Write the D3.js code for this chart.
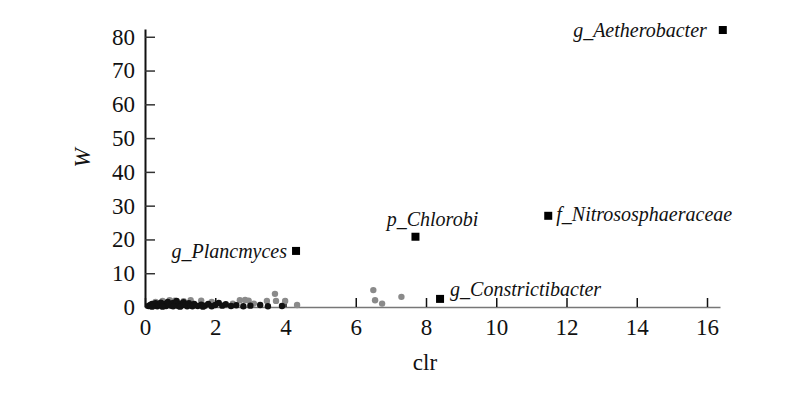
<meta charset="utf-8">
<script src="https://cdn.jsdelivr.net/npm/d3@7"></script>
<style>
  body { margin: 0; background: #fff; }
  text { font-family: "Liberation Serif", "Times New Roman", serif; }
</style>
<div id="chart"></div>
<script>
// labelled genera (black squares)
var taxa = ["g_Aetherobacter", "f_Nitrososphaeraceae", "p_Chlorobi", "g_Plancmyces", "g_Constrictibacter"];
var taxaClr = [16.45, 11.48, 7.7, 4.3, 8.4];
var taxaW = [82, 27, 20.8, 16.6, 2.4];

// small dark points near the origin
var darkClr = [0.1,0.15,0.2,0.25,0.3,0.35,0.4,0.45,0.5,0.55,0.6,0.65,0.7,0.75,0.8,0.85,0.9,0.95,1.0,1.05,1.1,1.15,1.2,1.25,1.3,1.4,1.5,1.6,1.7,1.8,1.9,2.0,2.1,2.2,2.3,2.45,2.6,2.8,3.0,3.28,3.5,3.9,0.2,0.5,0.8,1.0,1.35,1.65];
var darkW   = [0.3,0.6,0.9,0.4,1.1,0.2,0.7,1.3,0.5,0.9,0.3,1.5,0.8,0.4,1.2,0.6,1.8,0.3,1.0,0.5,1.4,0.7,0.2,1.1,0.5,0.9,0.3,0.7,0.4,0.9,0.2,0.6,1.2,0.4,0.8,0.3,0.5,0.2,0.4,0.6,0.2,0.3,0.1,0.1,0.2,0.1,0.2,0.1];

// grey points
var greyClr = [0.3,0.5,0.7,0.85,1.1,1.3,1.6,1.9,2.5,2.7,2.85,2.95,3.1,3.47,3.7,3.73,3.99,4.33,6.5,6.55,6.75,7.3];
var greyW   = [1.5,1.8,2.0,1.9,1.7,2.0,1.9,1.5,1.0,2.0,2.1,1.9,1.0,1.8,3.9,1.8,1.8,0.6,5.0,2.0,1.0,3.0];

var xTicks = [0, 2, 4, 6, 8, 10, 12, 14, 16];
var yTicks = [0, 10, 20, 30, 40, 50, 60, 70, 80];

// label placement: [dx, dy, anchor]
var labelPos = [[-16, 7, "end"], [8, 5, "start"], [17, -11, "middle"], [-9, 7, "end"], [10, -3, "start"]];

var width = 800, height = 395;
var svg = d3.select("#chart").append("svg")
  .attr("width", width).attr("height", height);

var x = d3.scaleLinear().domain([0, 16.37]).range([145, 720]);
var y = d3.scaleLinear().domain([0, 82.3]).range([307, 29]);

// x axis
var gx = svg.append("g").attr("transform", "translate(0,307)")
  .call(d3.axisBottom(x).tickValues(xTicks).tickSize(0).tickPadding(12));
gx.select(".domain").attr("stroke", "#777").attr("stroke-width", 1.5);
gx.selectAll("text").attr("font-size", 23).attr("fill", "#111");
gx.selectAll(".tick").append("line")
  .attr("y1", 0).attr("y2", -9).attr("stroke", "#111").attr("stroke-width", 1.5);

// y axis
var gy = svg.append("g").attr("transform", "translate(145,0)")
  .call(d3.axisLeft(y).tickValues(yTicks).tickSize(0).tickPadding(10));
gy.select(".domain").attr("stroke", "#111").attr("stroke-width", 2);
gy.selectAll("text").attr("font-size", 23).attr("fill", "#111");
gy.selectAll(".tick").append("line")
  .attr("x1", 0).attr("x2", 10).attr("stroke", "#333").attr("stroke-width", 1.5);

// axis titles
svg.append("text").attr("x", 425).attr("y", 370)
  .attr("text-anchor", "middle").attr("font-size", 23).attr("fill", "#111").text("clr");
svg.append("text").attr("transform", "translate(90,158) rotate(-90)")
  .attr("text-anchor", "middle").attr("font-size", 23).attr("font-style", "italic")
  .attr("fill", "#111").text("W");

// grey points
svg.append("g").selectAll("circle").data(greyClr).enter().append("circle")
  .attr("cx", function(d) { return x(d); })
  .attr("cy", function(d, i) { return y(greyW[i]); })
  .attr("r", 3.2).attr("fill", "#8a8a8a");

// dark points
svg.append("g").selectAll("circle").data(darkClr).enter().append("circle")
  .attr("cx", function(d) { return x(d); })
  .attr("cy", function(d, i) { return y(darkW[i]); })
  .attr("r", 3.2).attr("fill", "#111");

// labelled squares
var s = 8;
svg.append("g").selectAll("rect").data(taxa).enter().append("rect")
  .attr("x", function(d, i) { return x(taxaClr[i]) - s / 2; })
  .attr("y", function(d, i) { return y(taxaW[i]) - s / 2; })
  .attr("width", s).attr("height", s).attr("fill", "#000");

svg.append("g").selectAll("text").data(taxa).enter().append("text")
  .attr("x", function(d, i) { return x(taxaClr[i]) + labelPos[i][0]; })
  .attr("y", function(d, i) { return y(taxaW[i]) + labelPos[i][1]; })
  .attr("text-anchor", function(d, i) { return labelPos[i][2]; })
  .attr("font-size", 20).attr("font-style", "italic").attr("fill", "#111")
  .text(function(d) { return d; });
</script>
